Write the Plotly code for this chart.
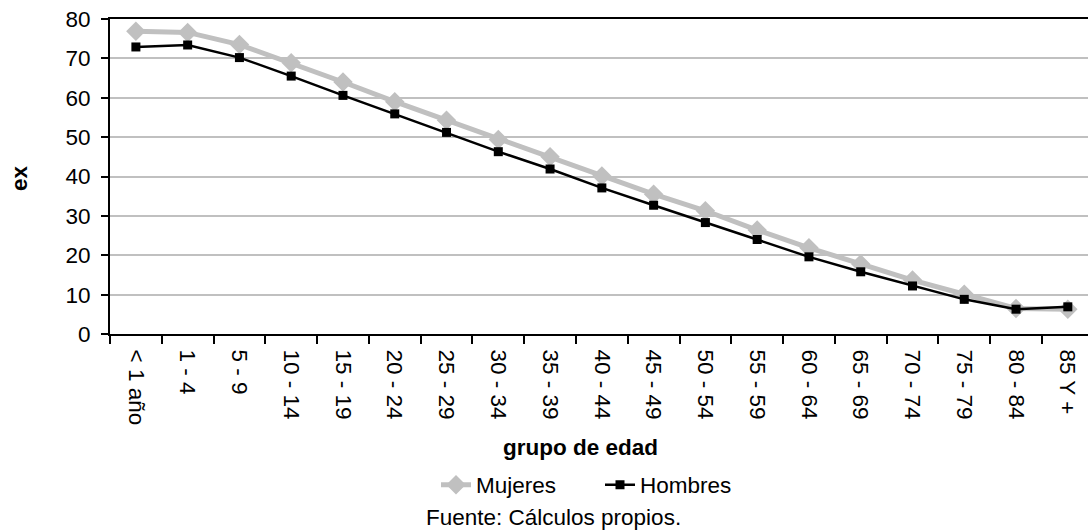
import plotly.graph_objects as go

categories = ["< 1 año", "1 - 4", "5 - 9", "10 - 14", "15 - 19", "20 - 24", "25 - 29",
              "30 - 34", "35 - 39", "40 - 44", "45 - 49", "50 - 54", "55 - 59",
              "60 - 64", "65 - 69", "70 - 74", "75 - 79", "80 - 84", "85 Y +"]
mujeres = [76.9, 76.6, 73.5, 68.9, 64.0, 59.0, 54.3, 49.4, 45.0, 40.1, 35.5, 31.3,
           26.4, 21.9, 17.8, 13.7, 10.1, 6.5, 6.3]
hombres = [72.9, 73.4, 70.2, 65.5, 60.6, 55.9, 51.2, 46.3, 41.9, 37.1, 32.7, 28.3,
           24.0, 19.6, 15.8, 12.2, 8.8, 6.3, 6.9]
y_ticks = [0, 10, 20, 30, 40, 50, 60, 70, 80]

FONT = "Liberation Sans, Arial, sans-serif"
FS = 22.5

W, H = 1088, 531
L, R, T, B = 110, 0, 19, 197
pw, ph = W - L - R, H - T - B

def px_x(p):
    return (p - L) / pw

def px_y(p):
    return (H - B - p) / ph

fig = go.Figure()
fig.add_trace(go.Scatter(
    x=categories, y=mujeres, name="Mujeres", mode="lines+markers",
    line=dict(color="#C0C0C0", width=5),
    marker=dict(symbol="diamond", size=15, color="#C0C0C0"),
))
fig.add_trace(go.Scatter(
    x=categories, y=hombres, name="Hombres", mode="lines+markers",
    line=dict(color="#000000", width=2.5),
    marker=dict(symbol="square", size=9, color="#000000"),
))

fig.update_layout(
    width=W, height=H, autosize=False,
    margin=dict(l=L, r=R, t=T, b=B, pad=0),
    paper_bgcolor="white", plot_bgcolor="white",
    font=dict(family=FONT, size=FS, color="#000000"),
    showlegend=True,
    legend=dict(orientation="h", x=px_x(436), y=px_y(485), xanchor="left",
                yanchor="middle", font=dict(family=FONT, size=FS),
                bgcolor="rgba(0,0,0,0)", entrywidth=119, entrywidthmode="pixels"),
    xaxis=dict(
        type="category", range=[-0.5, 18.39], tickson="boundaries",
        ticks="outside", ticklen=8, tickwidth=1.5, tickcolor="#000000",
        tickangle=90, showline=True, linecolor="#000000", linewidth=2,
        mirror=True, showgrid=False, zeroline=False, ticklabelstandoff=9,
        tickfont=dict(family=FONT, size=FS),
    ),
    yaxis=dict(
        range=[0, 80], tickvals=y_ticks, ticks="outside", ticklen=7,
        tickwidth=1.5, tickcolor="#000000", showline=True,
        linecolor="#000000", linewidth=2, showgrid=True,
        gridcolor="#C0C0C0", gridwidth=1.5, zeroline=False,
        ticklabelstandoff=6, tickfont=dict(family=FONT, size=FS),
    ),
    annotations=[
        dict(text="<b>grupo de edad</b>", xref="paper", yref="paper",
             x=px_x(580), y=px_y(447), xanchor="center", yanchor="middle",
             showarrow=False, font=dict(family=FONT, size=FS)),
        dict(text="<b>ex</b>", xref="paper", yref="paper",
             x=px_x(19), y=px_y(178), xanchor="center", yanchor="middle",
             textangle=-90, showarrow=False, font=dict(family=FONT, size=FS)),
        dict(text="Fuente: Cálculos propios.", xref="paper", yref="paper",
             x=px_x(553), y=px_y(517), xanchor="center", yanchor="middle",
             showarrow=False, font=dict(family=FONT, size=FS)),
    ],
)

fig.write_html("out.html")
